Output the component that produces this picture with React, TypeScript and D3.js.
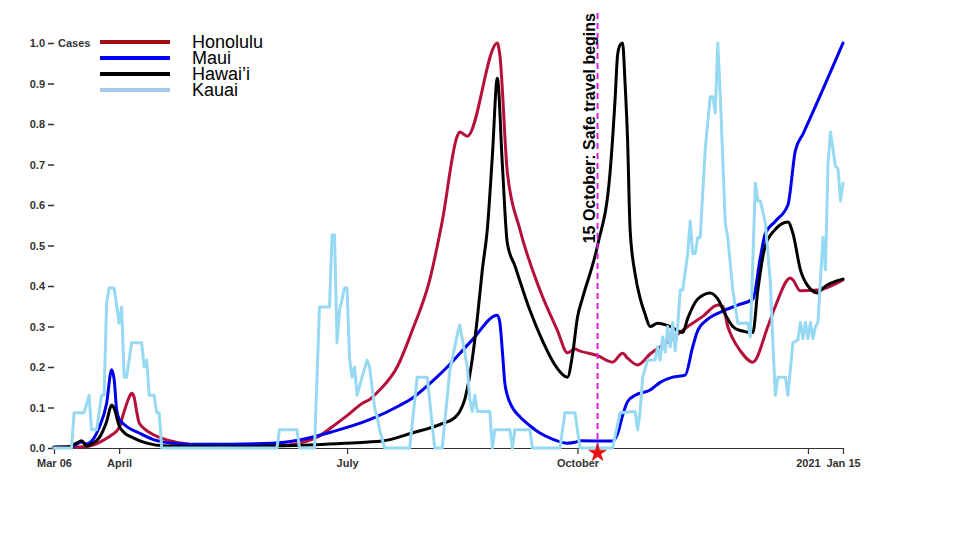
import React, { useEffect, useRef } from "react";
import * as d3 from "d3";

type Pt = [string, number];

const honolulu: Pt[] = [
  ["2020-03-06", 0.002], ["2020-03-18", 0.003], ["2020-03-22", 0.008], ["2020-03-26", 0.02],
  ["2020-03-29", 0.032], ["2020-04-01", 0.05], ["2020-04-03", 0.09], ["2020-04-05", 0.125],
  ["2020-04-06", 0.135], ["2020-04-07", 0.125], ["2020-04-08", 0.09], ["2020-04-09", 0.062],
  ["2020-04-11", 0.048], ["2020-04-15", 0.032], ["2020-04-20", 0.02], ["2020-04-26", 0.012],
  ["2020-05-05", 0.007], ["2020-05-20", 0.006], ["2020-06-04", 0.006], ["2020-06-12", 0.012],
  ["2020-06-20", 0.03], ["2020-06-25", 0.052], ["2020-07-02", 0.085], ["2020-07-07", 0.11],
  ["2020-07-10", 0.12], ["2020-07-14", 0.143], ["2020-07-21", 0.2], ["2020-07-27", 0.29],
  ["2020-08-03", 0.415], ["2020-08-08", 0.56], ["2020-08-14", 0.77], ["2020-08-15", 0.78],
  ["2020-08-18", 0.77], ["2020-08-30", 1.0], ["2020-08-31", 0.97], ["2020-09-03", 0.68],
  ["2020-09-08", 0.54], ["2020-09-16", 0.39], ["2020-09-23", 0.29], ["2020-09-27", 0.235],
  ["2020-09-30", 0.245], ["2020-10-01", 0.242], ["2020-10-09", 0.228], ["2020-10-15", 0.212],
  ["2020-10-19", 0.234], ["2020-10-21", 0.222], ["2020-10-25", 0.205], ["2020-10-30", 0.232],
  ["2020-11-06", 0.262], ["2020-11-14", 0.3], ["2020-11-20", 0.325], ["2020-11-26", 0.353],
  ["2020-11-28", 0.35], ["2020-11-30", 0.3], ["2020-12-02", 0.27], ["2020-12-05", 0.24],
  ["2020-12-10", 0.212], ["2020-12-16", 0.3], ["2020-12-19", 0.35], ["2020-12-25", 0.42],
  ["2020-12-26", 0.415], ["2020-12-29", 0.388], ["2021-01-05", 0.39], ["2021-01-15", 0.415],
];

const maui: Pt[] = [
  ["2020-03-06", 0.002], ["2020-03-13", 0.003], ["2020-03-17", 0.015], ["2020-03-19", 0.01],
  ["2020-03-22", 0.025], ["2020-03-24", 0.05], ["2020-03-27", 0.11], ["2020-03-29", 0.193],
  ["2020-03-30", 0.17], ["2020-03-31", 0.095], ["2020-04-01", 0.072], ["2020-04-03", 0.058],
  ["2020-04-09", 0.037], ["2020-04-15", 0.02], ["2020-04-22", 0.012], ["2020-05-05", 0.009],
  ["2020-06-01", 0.012], ["2020-06-12", 0.02], ["2020-06-25", 0.04], ["2020-07-10", 0.07],
  ["2020-07-22", 0.105], ["2020-07-27", 0.123], ["2020-08-05", 0.17], ["2020-08-10", 0.2],
  ["2020-08-20", 0.267], ["2020-08-30", 0.328], ["2020-08-31", 0.31], ["2020-09-01", 0.24],
  ["2020-09-02", 0.16], ["2020-09-03", 0.13], ["2020-09-05", 0.1], ["2020-09-08", 0.077],
  ["2020-09-12", 0.055], ["2020-09-16", 0.037], ["2020-09-21", 0.022], ["2020-09-27", 0.012],
  ["2020-09-30", 0.014], ["2020-10-02", 0.018], ["2020-10-15", 0.017], ["2020-10-17", 0.035],
  ["2020-10-19", 0.08], ["2020-10-21", 0.115], ["2020-10-24", 0.13], ["2020-10-30", 0.143],
  ["2020-11-03", 0.162], ["2020-11-08", 0.175], ["2020-11-13", 0.18], ["2020-11-16", 0.25],
  ["2020-11-18", 0.29], ["2020-11-22", 0.318], ["2020-11-28", 0.338], ["2020-12-04", 0.353],
  ["2020-12-10", 0.368], ["2020-12-13", 0.47], ["2020-12-15", 0.53], ["2020-12-19", 0.56],
  ["2020-12-24", 0.6], ["2020-12-27", 0.735], ["2020-12-30", 0.775], ["2021-01-15", 1.0],
];

const hawaii: Pt[] = [
  ["2020-03-06", 0.002], ["2020-03-12", 0.003], ["2020-03-15", 0.012], ["2020-03-17", 0.018],
  ["2020-03-19", 0.005], ["2020-03-21", 0.01], ["2020-03-24", 0.025], ["2020-03-27", 0.065],
  ["2020-03-29", 0.106], ["2020-03-30", 0.098], ["2020-04-01", 0.055], ["2020-04-03", 0.038],
  ["2020-04-06", 0.027], ["2020-04-12", 0.012], ["2020-04-20", 0.005], ["2020-05-10", 0.003],
  ["2020-06-10", 0.006], ["2020-07-01", 0.012], ["2020-07-15", 0.017], ["2020-07-27", 0.037],
  ["2020-08-08", 0.06], ["2020-08-13", 0.075], ["2020-08-15", 0.09], ["2020-08-17", 0.12],
  ["2020-08-19", 0.18], ["2020-08-20", 0.22], ["2020-08-22", 0.32], ["2020-08-24", 0.44],
  ["2020-08-26", 0.54], ["2020-08-28", 0.72], ["2020-08-30", 0.913], ["2020-09-01", 0.7],
  ["2020-09-03", 0.505], ["2020-09-06", 0.45], ["2020-09-12", 0.34], ["2020-09-17", 0.265],
  ["2020-09-22", 0.205], ["2020-09-27", 0.175], ["2020-09-29", 0.23], ["2020-10-01", 0.323],
  ["2020-10-03", 0.37], ["2020-10-09", 0.5], ["2020-10-14", 0.68], ["2020-10-16", 0.86],
  ["2020-10-17", 0.97], ["2020-10-18", 0.995], ["2020-10-19", 1.0], ["2020-10-20", 0.9],
  ["2020-10-21", 0.76], ["2020-10-22", 0.54], ["2020-10-24", 0.43], ["2020-10-26", 0.37],
  ["2020-10-28", 0.33], ["2020-10-30", 0.3], ["2020-11-02", 0.308], ["2020-11-07", 0.3],
  ["2020-11-12", 0.285], ["2020-11-14", 0.32], ["2020-11-18", 0.368], ["2020-11-23", 0.383],
  ["2020-11-26", 0.368], ["2020-11-29", 0.33], ["2020-12-02", 0.3], ["2020-12-05", 0.29],
  ["2020-12-10", 0.285], ["2020-12-12", 0.39], ["2020-12-15", 0.5], ["2020-12-19", 0.54],
  ["2020-12-24", 0.558], ["2020-12-26", 0.53], ["2020-12-29", 0.44], ["2021-01-01", 0.4],
  ["2021-01-05", 0.383], ["2021-01-07", 0.395], ["2021-01-15", 0.417],
];

const kauai: Pt[] = [
  ["2020-03-06", 0], ["2020-03-13", 0], ["2020-03-14", 0.087], ["2020-03-18", 0.087],
  ["2020-03-20", 0.13], ["2020-03-21", 0.045], ["2020-03-23", 0.045], ["2020-03-25", 0.13],
  ["2020-03-26", 0.13], ["2020-03-27", 0.357], ["2020-03-28", 0.395], ["2020-03-30", 0.395],
  ["2020-04-01", 0.308], ["2020-04-02", 0.348], ["2020-04-03", 0.175], ["2020-04-04", 0.175],
  ["2020-04-06", 0.26], ["2020-04-10", 0.26], ["2020-04-11", 0.2], ["2020-04-12", 0.217],
  ["2020-04-13", 0.13], ["2020-04-15", 0.13], ["2020-04-16", 0.087], ["2020-04-17", 0.087],
  ["2020-04-18", 0], ["2020-06-03", 0], ["2020-06-04", 0.045], ["2020-06-11", 0.045],
  ["2020-06-12", 0], ["2020-06-18", 0], ["2020-06-20", 0.348], ["2020-06-24", 0.348],
  ["2020-06-25", 0.526], ["2020-06-26", 0.526], ["2020-06-27", 0.26], ["2020-06-28", 0.34],
  ["2020-06-30", 0.395], ["2020-07-01", 0.395], ["2020-07-02", 0.22], ["2020-07-03", 0.175],
  ["2020-07-04", 0.2], ["2020-07-05", 0.13], ["2020-07-07", 0.175], ["2020-07-09", 0.217],
  ["2020-07-10", 0.2], ["2020-07-12", 0.1], ["2020-07-13", 0.077], ["2020-07-14", 0.045],
  ["2020-07-16", 0], ["2020-07-26", 0], ["2020-07-29", 0.175], ["2020-08-02", 0.175],
  ["2020-08-05", 0], ["2020-08-08", 0], ["2020-08-11", 0.19], ["2020-08-14", 0.28],
  ["2020-08-15", 0.304], ["2020-08-17", 0.235], ["2020-08-18", 0.2], ["2020-08-19", 0.12],
  ["2020-08-20", 0.09], ["2020-08-21", 0.13], ["2020-08-22", 0.09], ["2020-08-27", 0.09],
  ["2020-08-28", 0], ["2020-08-29", 0.045], ["2020-09-04", 0.045], ["2020-09-05", 0],
  ["2020-09-06", 0.045], ["2020-09-12", 0.045], ["2020-09-13", 0], ["2020-09-24", 0],
  ["2020-09-26", 0.087], ["2020-09-30", 0.087], ["2020-10-02", 0], ["2020-10-15", 0],
  ["2020-10-18", 0.087], ["2020-10-24", 0.09], ["2020-10-25", 0.045], ["2020-10-26", 0.09],
  ["2020-10-27", 0.175], ["2020-10-29", 0.217], ["2020-11-01", 0.217], ["2020-11-02", 0.25],
  ["2020-11-03", 0.217], ["2020-11-04", 0.274], ["2020-11-05", 0.237], ["2020-11-06", 0.3],
  ["2020-11-07", 0.25], ["2020-11-08", 0.31], ["2020-11-09", 0.24], ["2020-11-10", 0.3],
  ["2020-11-11", 0.39], ["2020-11-12", 0.39], ["2020-11-14", 0.48], ["2020-11-15", 0.56],
  ["2020-11-16", 0.48], ["2020-11-17", 0.48], ["2020-11-18", 0.52], ["2020-11-19", 0.52],
  ["2020-11-21", 0.74], ["2020-11-23", 0.867], ["2020-11-24", 0.867], ["2020-11-25", 0.827],
  ["2020-11-26", 1.0], ["2020-11-27", 0.87], ["2020-11-29", 0.555], ["2020-11-30", 0.52],
  ["2020-12-02", 0.39], ["2020-12-04", 0.308], ["2020-12-08", 0.308], ["2020-12-09", 0.274],
  ["2020-12-11", 0.654], ["2020-12-12", 0.61], ["2020-12-13", 0.61], ["2020-12-15", 0.555],
  ["2020-12-17", 0.41], ["2020-12-18", 0.26], ["2020-12-19", 0.13], ["2020-12-20", 0.175],
  ["2020-12-23", 0.175], ["2020-12-24", 0.13], ["2020-12-26", 0.26], ["2020-12-28", 0.267],
  ["2020-12-29", 0.31], ["2020-12-30", 0.27], ["2020-12-31", 0.31], ["2021-01-01", 0.27],
  ["2021-01-02", 0.31], ["2021-01-03", 0.27], ["2021-01-04", 0.3], ["2021-01-05", 0.31],
  ["2021-01-07", 0.52], ["2021-01-08", 0.44], ["2021-01-09", 0.7], ["2021-01-10", 0.78],
  ["2021-01-12", 0.695], ["2021-01-13", 0.69], ["2021-01-14", 0.61], ["2021-01-15", 0.654],
];

const seriesNames = ["Honolulu", "Maui", "Hawai’i", "Kauai"];
const lineColors = ["#b5103c", "#0000ee", "#000000", "#97d9f2"];
const legendColors = ["#a30d14", "#0000ff", "#000000", "#a6cbea"];
const xTickDates = ["2020-03-06", "2020-04-01", "2020-07-01", "2020-10-01", "2021-01-01", "2021-01-15"];
const xTickLabels = ["Mar 06", "April", "July", "October", "2021", "Jan 15"];
const domainDates = ["2020-03-06", "2021-01-15"];
const markerDate = "2020-10-09";
const markerLabel = "15 October: Safe travel begins";
const yLabel = "Cases";

const parse = d3.timeParse("%Y-%m-%d");
const FONT = "'Liberation Sans', Arial, sans-serif";

export default function App() {
  const xAxisRef = useRef<SVGGElement>(null);
  const yAxisRef = useRef<SVGGElement>(null);

  const x = d3.scaleTime().domain(domainDates.map((d) => parse(d) as Date)).range([54, 843]);
  const y = d3.scaleLinear().domain([0, 1]).range([448, 43]);

  const all = [honolulu, maui, hawaii, kauai];

  useEffect(() => {
    const tickDates = xTickDates.map((d) => parse(d) as Date);
    const xa = d3
      .axisBottom(x)
      .tickValues(tickDates)
      .tickSize(6)
      .tickSizeOuter(0)
      .tickFormat((_d, i) => xTickLabels[i]);
    const gx = d3.select(xAxisRef.current!);
    gx.call(xa as any);
    gx.select(".domain").attr("stroke", "#333").attr("stroke-width", 1.2);
    gx.selectAll(".tick line").attr("stroke", "#333").attr("stroke-width", 1.2);
    gx.selectAll(".tick text")
      .attr("fill", "#333")
      .attr("font-size", 11)
      .attr("font-weight", "bold")
      .attr("font-family", FONT)
      .attr("dy", "0.9em");

    const ya = d3.axisLeft(y).ticks(10).tickSize(6).tickFormat(d3.format(".1f") as any);
    const gy = d3.select(yAxisRef.current!);
    gy.call(ya as any);
    gy.select(".domain").remove();
    gy.selectAll(".tick line").attr("stroke", "#333").attr("stroke-width", 1.5);
    gy.selectAll(".tick text")
      .attr("fill", "#333")
      .attr("font-size", 11)
      .attr("font-weight", "bold")
      .attr("font-family", FONT);
  }, []);

  const smooth = d3
    .line<Pt>()
    .x((d) => x(parse(d[0]) as Date))
    .y((d) => y(d[1]))
    .curve(d3.curveMonotoneX);
  const straight = d3
    .line<Pt>()
    .x((d) => x(parse(d[0]) as Date))
    .y((d) => y(d[1]));

  const mx = x(parse(markerDate) as Date);
  const star = d3.symbol().type(d3.symbolStar).size(95)();

  return (
    <svg
      width={960}
      height={540}
      style={{ position: "absolute", left: 0, top: 0, background: "#fff" }}
      fontFamily={FONT}
    >
      <rect x={0} y={0} width={960} height={540} fill="#fff" />
      <g ref={yAxisRef} transform={`translate(${x.range()[0]},0)`} />
      <g ref={xAxisRef} transform={`translate(0,${y(0)})`} />
      <text x={58} y={y(1)} dy="0.32em" fontSize={11} fontWeight="bold" fill="#333">
        {yLabel}
      </text>

      {all.map((s, i) => (
        <path
          key={seriesNames[i]}
          d={(i === 3 ? straight(s) : smooth(s)) || ""}
          fill="none"
          stroke={lineColors[i]}
          strokeWidth={3}
          strokeLinejoin="round"
          strokeLinecap="round"
        />
      ))}

      <line
        x1={mx}
        x2={mx}
        y1={13}
        y2={y(0)}
        stroke="#e020e0"
        strokeWidth={2}
        strokeDasharray="6,4"
      />
      <text
        transform={`translate(${mx - 3},13) rotate(-90)`}
        textAnchor="end"
        fontSize={16}
        fontWeight="bold"
        fill="#000"
      >
        {markerLabel}
      </text>
      <path d={star || ""} transform={`translate(${mx},${y(0) + 5})`} fill="#ee1111" stroke="#b00" strokeWidth={0.5} />

      {seriesNames.map((n, i) => (
        <g key={n} transform={`translate(0,${42 + i * 16})`}>
          <line x1={100} x2={170} y1={0} y2={0} stroke={legendColors[i]} strokeWidth={4} />
          <text x={192} y={6} fontSize={18} fill="#000">
            {n}
          </text>
        </g>
      ))}
    </svg>
  );
}
